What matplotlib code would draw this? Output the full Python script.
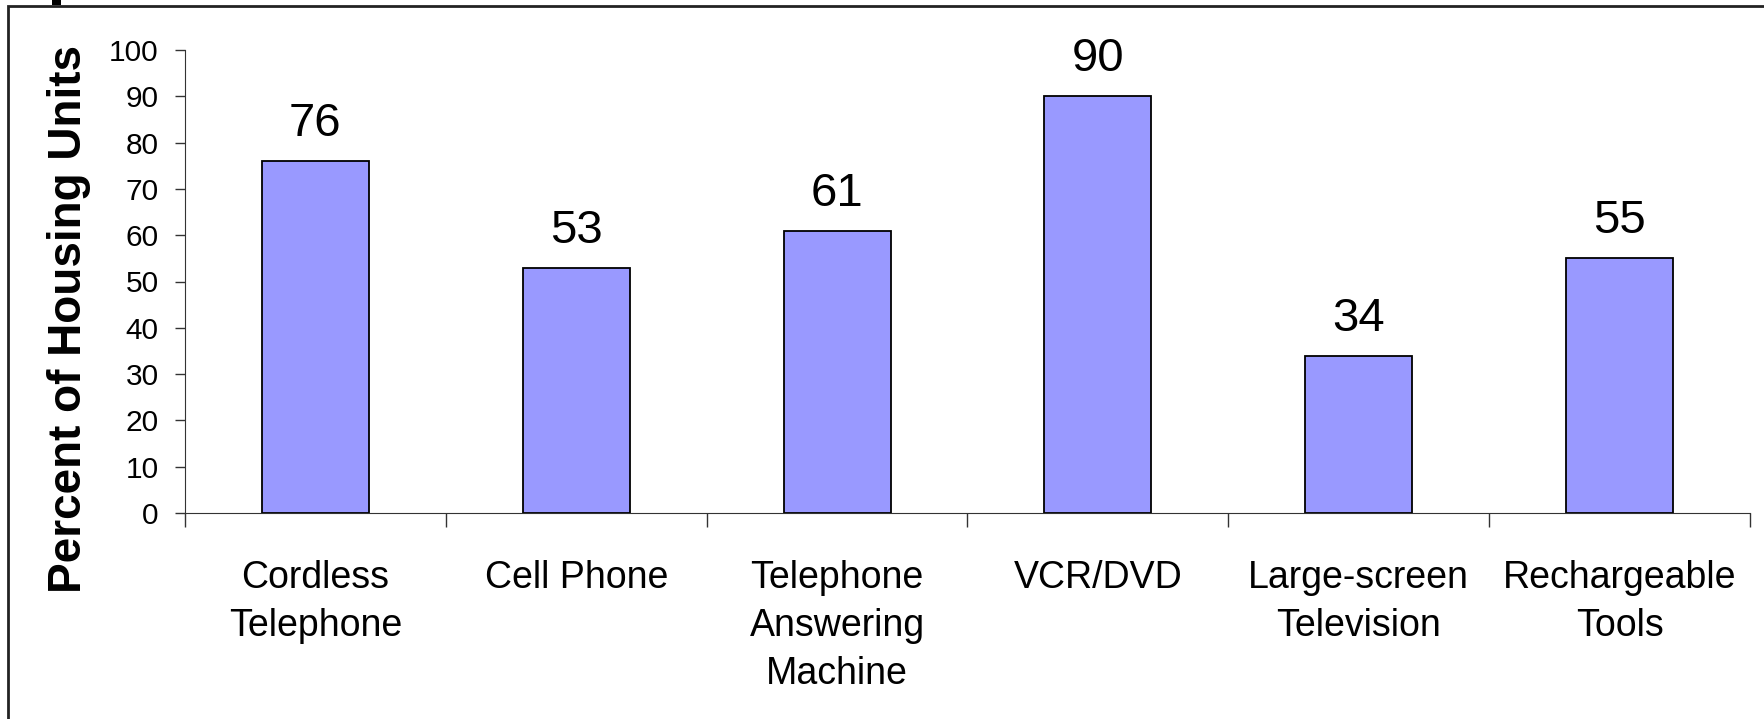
import numpy as np
import matplotlib.pyplot as plt
from matplotlib.patches import Rectangle

categories = ['Cordless\nTelephone', 'Cell Phone', 'Telephone\nAnswering\nMachine',
              'VCR/DVD', 'Large-screen\nTelevision', 'Rechargeable\nTools']
values = [76, 53, 61, 90, 34, 55]
yticks = [0, 10, 20, 30, 40, 50, 60, 70, 80, 90, 100]

plt.rcParams['font.family'] = ['Liberation Sans', 'DejaVu Sans']

W, H = 1765, 719
fig = plt.figure(figsize=(W / 100, H / 100), dpi=100)
ax = fig.add_axes([185 / W, 1 - 513 / H, (1750 - 185) / W, (513 - 50) / H])

x = np.arange(len(categories))
bars = ax.bar(x, values, width=0.41, color='#9999ff', edgecolor='black', linewidth=1.3)
for xi, v in zip(x, values):
    ax.annotate(str(v), (xi, v), xytext=(0, 18), textcoords='offset points',
                ha='center', va='baseline', fontsize=34)

ax.set_xlim(-0.5, len(categories) - 0.5)
ax.set_ylim(0, 100)
ax.set_yticks(yticks)
ax.tick_params(axis='y', labelsize=21.5, length=7, width=1, pad=12, color='#333333')

ax.set_xticks(x)
ax.set_xticklabels(categories, fontsize=27, linespacing=1.43)
ax.tick_params(axis='x', which='major', length=0, pad=34)
ax.set_xticks(np.arange(len(categories) + 1) - 0.5, minor=True)
ax.tick_params(axis='x', which='minor', length=10, width=1, color='#333333')

for s in ['top', 'right']:
    ax.spines[s].set_visible(False)
ax.spines['left'].set_color('#333333')
ax.spines['bottom'].set_color('#333333')

ax.set_ylabel('Percent of Housing Units', fontsize=33, fontweight='bold')
ax.yaxis.set_label_coords(-0.06, 0.42)

# outer chart frame (clipped at the right and bottom edges)
fig.patches.append(Rectangle((8 / W, -0.1), 1.2, 1 - 6 / H + 0.1, transform=fig.transFigure,
                             fill=False, edgecolor='#222222', linewidth=2))
# bit of a cut-off title at the very top
fig.patches.append(Rectangle((52 / W, 1 - 5 / H), 9 / W, 5 / H, transform=fig.transFigure,
                             facecolor='black', edgecolor='none'))

fig.savefig('out.png', dpi=100)
